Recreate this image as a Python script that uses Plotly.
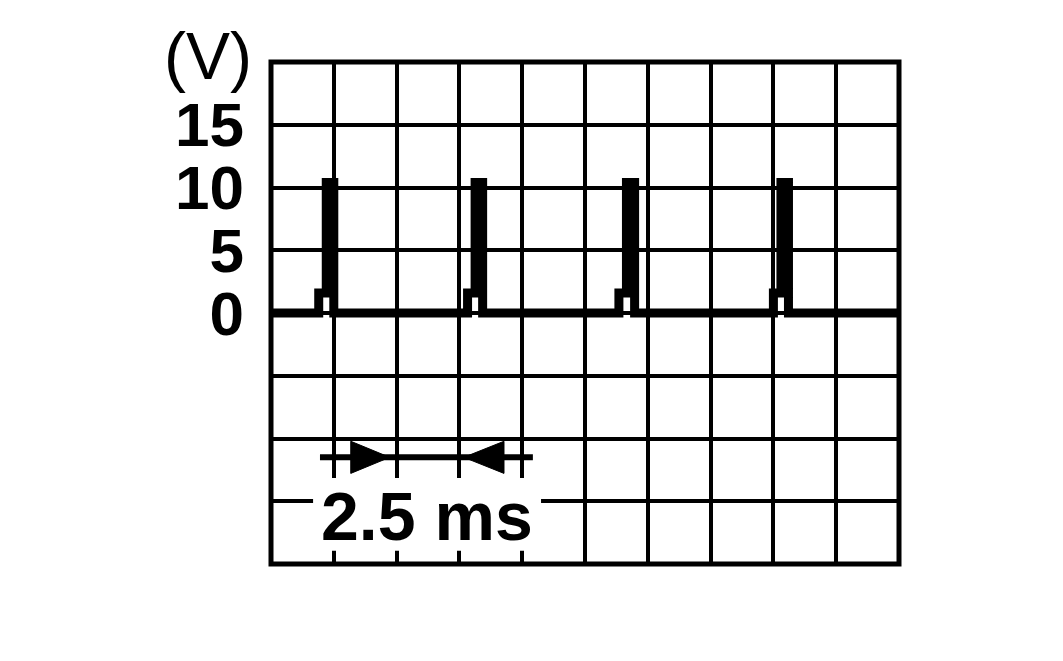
import plotly.graph_objects as go

# scope trace, one grid division per time unit, 5 V per division
volt_ticks = [-15, -10, -5, 0, 5, 10, 15]
volt_labels = ["", "", "", "0", "5", "10", "15"]

pulse_step_t = [0.76, 3.13, 5.54, 8.00]   # small pre-step starts
pulse_rise_t = [0.88, 3.25, 5.66, 8.12]   # main spike rising edge
pulse_fall_t = [1.00, 3.37, 5.79, 8.24]   # main spike falling edge
step_v = 1.6
peak_v = 10.4

# 2.5 ms dimension marker
dim_y = -11.5
dim_span_t = [0.78, 4.17]
head_base_t = [1.27, 3.71]
head_tip_t = [1.89, 3.07]
head_half = 1.28
dim_label = "2.5 ms"
dim_label_t = 2.49
dim_label_v = -16.2

# build the waveform path from the pulse tables
wave_t, wave_v = [0.0], [0.0]
for ts, tr, tf in zip(pulse_step_t, pulse_rise_t, pulse_fall_t):
    wave_t += [ts, ts, tr, tr, tf, tf]
    wave_v += [0, step_v, step_v, peak_v, peak_v, 0]
wave_t.append(10.0)
wave_v.append(0.0)

fig = go.Figure()

fig.add_trace(go.Scatter(x=wave_t, y=wave_v, mode="lines",
                         line=dict(color="black", width=9),
                         hoverinfo="skip", showlegend=False))

fig.add_trace(go.Scatter(x=dim_span_t, y=[dim_y, dim_y], mode="lines",
                         line=dict(color="black", width=6),
                         hoverinfo="skip", showlegend=False))

for base, tip in zip(head_base_t, head_tip_t):
    fig.add_trace(go.Scatter(
        x=[base, tip, base, base],
        y=[dim_y + head_half, dim_y, dim_y - head_half, dim_y + head_half],
        mode="lines", fill="toself", fillcolor="black",
        line=dict(color="black", width=1),
        hoverinfo="skip", showlegend=False))

# white patch behind the label so the grid breaks around it
fig.add_shape(type="rect", x0=0.67, x1=4.30, y0=-18.95, y1=-13.15,
              fillcolor="white", line=dict(width=0), layer="between")

fig.add_annotation(x=dim_label_t, y=dim_label_v, text="<b>%s</b>" % dim_label,
                   showarrow=False,
                   font=dict(family="Liberation Sans", size=68, color="black"))

fig.add_annotation(x=-0.027, y=1.012, xref="paper", yref="paper", text="(V)",
                   xanchor="right", yanchor="middle", showarrow=False,
                   font=dict(family="Liberation Sans", size=66, color="black"))

# plot frame
fig.add_shape(type="rect", xref="paper", yref="paper", x0=0, y0=0, x1=1, y1=1,
              line=dict(color="black", width=5), layer="above")

fig.update_xaxes(range=[0, 10], dtick=1, tick0=0, showgrid=True,
                 gridcolor="black", gridwidth=4, zeroline=False,
                 showticklabels=False, ticks="", showline=False)
fig.update_yaxes(range=[-20, 20], tickvals=volt_ticks, ticktext=volt_labels,
                 showgrid=True, gridcolor="black", gridwidth=4, zeroline=False,
                 ticks="", showline=False, ticklabelstandoff=26,
                 tickfont=dict(family="Liberation Sans", size=62, color="black",
                               weight="bold"))

# page body adds an 8px offset, so margins are trimmed on the top/left
fig.update_layout(width=1063, height=661, plot_bgcolor="white",
                  paper_bgcolor="white",
                  margin=dict(l=263, r=172, t=54, b=105))

fig.write_html("out.html")
